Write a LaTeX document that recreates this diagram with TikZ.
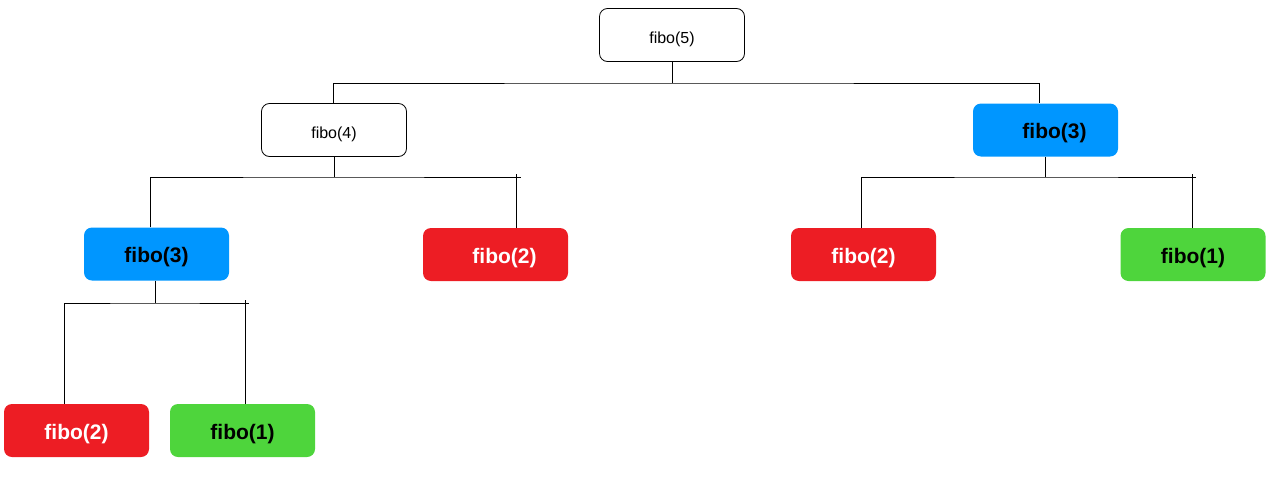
\documentclass[tikz,border=0pt]{standalone}
\usepackage{fontspec}
\setmainfont{Liberation Sans}
\usepackage{tikz}
\definecolor{fiboblue}{RGB}{0,150,255}
\definecolor{fibored}{RGB}{237,29,36}
\definecolor{fibogreen}{RGB}{78,213,60}
\tikzset{
	fibobox/.style={rounded corners=8pt, minimum width=145pt, minimum height=53pt, inner sep=0pt},
	plainbox/.style={fibobox, draw=black, line width=0.8pt, fill=white,
			text height=19.5pt, text depth=3.4pt, font=\fontsize{16}{18}\selectfont},
	boldbox/.style={fibobox, text height=22pt, text depth=4.4pt,
			font=\fontsize{21}{24}\selectfont\bfseries},
	bluebox/.style={boldbox, fill=fiboblue, text=black},
	redbox/.style={boldbox, fill=fibored, text=white},
	greenbox/.style={boldbox, fill=fibogreen, text=black},
	wire/.style={draw=black, line width=0.9pt}
}

\begin{document}
\begin{tikzpicture}[x=1pt,y=-1pt]
		\useasboundingbox (0,0) rectangle (1277,477);

		\node[plainbox] (f5) at (672,35) {fibo(5)};
		\node[plainbox] (f4) at (334,130) {fibo(4)};
		\node[bluebox] (f3a) at (1045.5,130) {\hspace{18pt}fibo(3)};
		\node[bluebox] (f3b) at (156.5,254) {fibo(3)};
		\node[redbox] (f2a) at (495.5,254.5) {\hspace{18pt}fibo(2)};
		\node[redbox] (f2b) at (863.5,254.5) {fibo(2)};
		\node[greenbox] (f1a) at (1193,254.5) {fibo(1)};
		\node[redbox] (f2c) at (76.5,430.5) {fibo(2)};
		\node[greenbox] (f1b) at (242.5,430.5) {fibo(1)};

		\coordinate (j5) at (672,83);
		\coordinate (j4) at (334,177);
		\coordinate (j3a) at (1045.5,177);
		\coordinate (j3b) at (155,303);

		\draw[wire] (f5.south) -- (j5);
		\draw[wire] ([xshift=-1pt]f4.north) |- (j5) -| ([xshift=-6.5pt]f3a.north);

		\draw[wire] (f4.south) -- (j4);
		\draw[wire] ([xshift=-6.5pt]f3b.north) |- (j4) -| ([xshift=21pt]f2a.north);

		\draw[wire] (f3a.south) -- (j3a);
		\draw[wire] ([xshift=-2pt]f2b.north) |- (j3a) -| ([xshift=-1pt]f1a.north);

		\draw[wire] ([xshift=-1.5pt]f3b.south) -- (j3b);
		\draw[wire] ([xshift=-12.5pt]f2c.north) |- (j3b) -| ([xshift=2.5pt]f1b.north);

		\coordinate (t4) at (516.5,177);
		\coordinate (t3a) at (1192,177);
		\coordinate (t3b) at (245,303);
		\foreach \t in {t4,t3a,t3b}
		\draw[wire] ([yshift=3pt]\t) -- (\t) -- ([xshift=4pt]\t);

	\end{tikzpicture}
\end{document}
